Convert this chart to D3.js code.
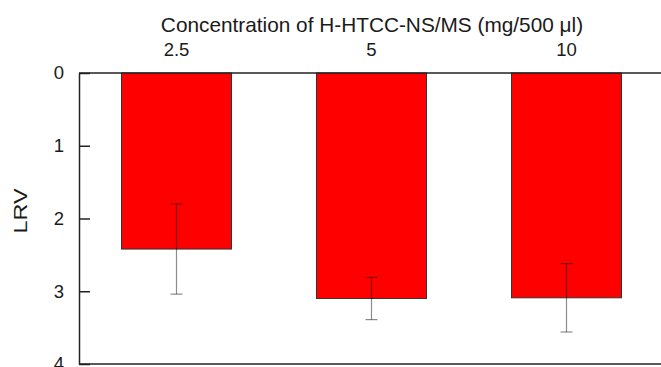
<!DOCTYPE html>
<html>
<head>
<meta charset="utf-8">
<script src="https://cdn.jsdelivr.net/npm/d3@7/dist/d3.min.js"></script>
<style>
  html, body { margin: 0; padding: 0; background: #fff; }
  svg { display: block; font-family: "Liberation Sans", Arial, sans-serif; }
</style>
</head>
<body>
<svg id="chart" width="661" height="367"></svg>
<script>
// Log reduction values by concentration
const categories = ["2.5", "5", "10"];
const lrvMean = [2.42, 3.10, 3.09];
const lrvErr = [0.62, 0.29, 0.47];
const yTicks = [0, 1, 2, 3, 4];

const svg = d3.select("#chart");
const plotLeft = 79, plotTop = 73, plotBottom = 364, plotRight = 664;

const x = d3.scaleBand()
  .domain(categories)
  .range([plotLeft, plotRight])
  .paddingInner(0.436)
  .paddingOuter(0.218);

// inverted axis: 0 at the top, values grow downward
const y = d3.scaleLinear().domain([0, 4]).range([plotTop, plotBottom]);

// bars
svg.append("g").selectAll("rect")
  .data(categories)
  .join("rect")
  .attr("x", d => x(d))
  .attr("y", y(0))
  .attr("width", x.bandwidth())
  .attr("height", (d, i) => y(lrvMean[i]) - y(0))
  .attr("fill", "#ff0000")
  .attr("stroke", "#333")
  .attr("stroke-width", 1);

// error bars
const eg = svg.append("g")
  .attr("stroke", "#000")
  .attr("stroke-opacity", 0.45)
  .attr("stroke-width", 1.2);
categories.forEach((c, i) => {
  const cx = x(c) + x.bandwidth() / 2;
  const y1 = y(lrvMean[i] - lrvErr[i]), y2 = y(lrvMean[i] + lrvErr[i]);
  eg.append("line").attr("x1", cx).attr("x2", cx).attr("y1", y1).attr("y2", y2);
  eg.append("line").attr("x1", cx - 6).attr("x2", cx + 6).attr("y1", y1).attr("y2", y1);
  eg.append("line").attr("x1", cx - 6).attr("x2", cx + 6).attr("y1", y2).attr("y2", y2);
});

// left axis, ticks pointing inward
const yAxis = svg.append("g")
  .attr("transform", `translate(${plotLeft},0)`)
  .call(d3.axisLeft(y).tickValues(yTicks).tickFormat(d3.format("d")).tickSizeInner(-11).tickSizeOuter(0).tickPadding(15));
yAxis.select(".domain").attr("stroke", "#222").attr("stroke-width", 1.5);
yAxis.selectAll(".tick line").attr("stroke", "#222").attr("stroke-width", 1.5);
yAxis.selectAll(".tick text").attr("font-size", 18.5).attr("fill", "#1a1a1a")
  .attr("font-family", "Liberation Sans, Arial, sans-serif");

// top axis with category labels
const xAxis = svg.append("g")
  .attr("transform", `translate(0,${plotTop})`)
  .call(d3.axisTop(x).tickSize(0).tickPadding(17));
xAxis.select(".domain").remove();
xAxis.selectAll(".tick text").attr("font-size", 18.5).attr("fill", "#1a1a1a")
  .attr("font-family", "Liberation Sans, Arial, sans-serif");

// frame lines along top and bottom
svg.append("line").attr("x1", plotLeft).attr("x2", 661).attr("y1", plotTop).attr("y2", plotTop)
  .attr("stroke", "#222").attr("stroke-width", 1.5);
svg.append("line").attr("x1", plotLeft).attr("x2", 661).attr("y1", plotBottom).attr("y2", plotBottom)
  .attr("stroke", "#222").attr("stroke-width", 1.5);

// titles
svg.append("text")
  .attr("x", 372).attr("y", 32)
  .attr("text-anchor", "middle")
  .attr("font-size", 20.8).attr("fill", "#1a1a1a")
  .text("Concentration of H-HTCC-NS/MS (mg/500 μl)");

svg.append("text")
  .attr("transform", "translate(27,211) rotate(-90) scale(1.3,1)")
  .attr("text-anchor", "middle")
  .attr("font-size", 18).attr("fill", "#1a1a1a")
  .text("LRV");
</script>
</body>
</html>
